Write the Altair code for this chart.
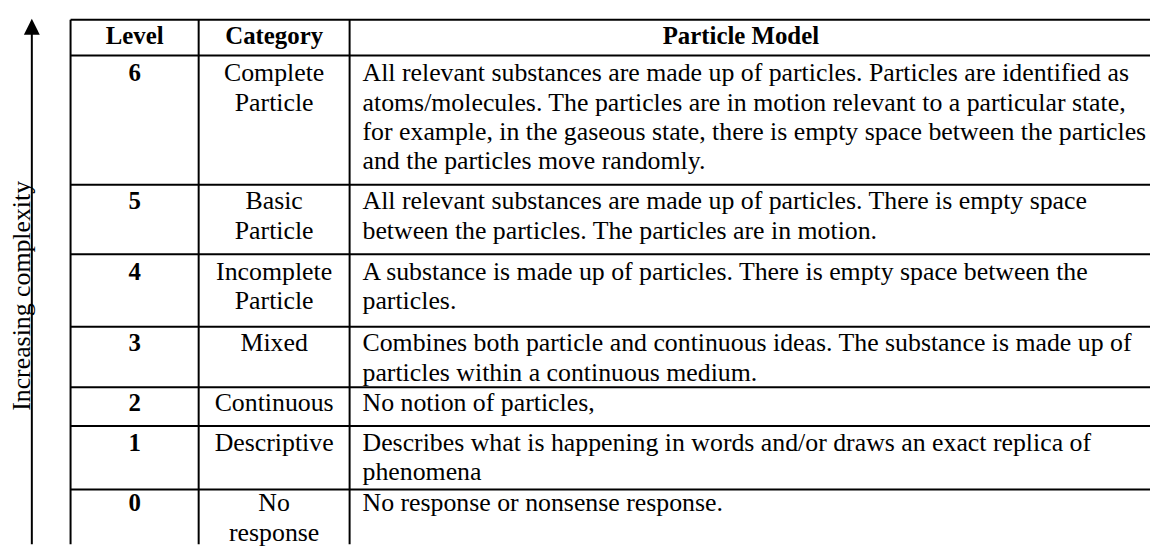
import altair as alt
import pandas as pd

# ---- table content ----
HEADERS = ["Level", "Category", "Particle Model"]
LEVELS = ["6", "5", "4", "3", "2", "1", "0"]
CATEGORIES = [
    "Complete\nParticle",
    "Basic\nParticle",
    "Incomplete\nParticle",
    "Mixed",
    "Continuous",
    "Descriptive",
    "No\nresponse",
]
DESCRIPTIONS = [
    "All relevant substances are made up of particles. Particles are identified as\n"
    "atoms/molecules. The particles are in motion relevant to a particular state,\n"
    "for example, in the gaseous state, there is empty space between the particles\n"
    "and the particles move randomly.",
    "All relevant substances are made up of particles. There is empty space\n"
    "between the particles. The particles are in motion.",
    "A substance is made up of particles. There is empty space between the\n"
    "particles.",
    "Combines both particle and continuous ideas. The substance is made up of\n"
    "particles within a continuous medium.",
    "No notion of particles,",
    "Describes what is happening in words and/or draws an exact replica of\n"
    "phenomena",
    "No response or nonsense response.",
]
SIDE_LABEL = "Increasing complexity"

# ---- table geometry (page pixel units) ----
COL_EDGES = [71, 200, 352]
TABLE_RIGHT = 1158
ROW_EDGES = [18, 54, 184, 254, 327, 388, 427, 491]
TABLE_BOTTOM = 546
HEADER_BASELINE = 42
ROW_BASELINES = [80, 209, 280, 352, 412, 452, 513]
HEADER_CENTERS = [135.5, 276, 746]
LEVEL_CENTER = 135.5
CATEGORY_CENTER = 276
DESC_LEFT = 365
ARROW_X = 32
ARROW_HEAD_Y = 25
ARROW_SHAFT_TOP = 30
SIDE_LABEL_X = 30
SIDE_LABEL_Y = 296

FONT = "Liberation Serif"
FS = 26
LH = 29.5

xs = alt.Scale(domain=[8, 1158], nice=False, zero=False)
ys = alt.Scale(domain=[8, 546], nice=False, zero=False, reverse=True)
X = lambda f: alt.X(f, type="quantitative", scale=xs, axis=None)
Y = lambda f: alt.Y(f, type="quantitative", scale=ys, axis=None)

hlines = pd.DataFrame({"y": ROW_EDGES, "x": COL_EDGES[0], "x2": TABLE_RIGHT})
vlines = pd.DataFrame({"x": COL_EDGES, "y": ROW_EDGES[0], "y2": TABLE_BOTTOM})
arrow = pd.DataFrame({"x": [ARROW_X], "y": [ARROW_SHAFT_TOP], "y2": [TABLE_BOTTOM], "yh": [ARROW_HEAD_Y]})
head = pd.DataFrame({"text": HEADERS, "x": HEADER_CENTERS, "y": HEADER_BASELINE})
body = pd.DataFrame({
    "level": LEVELS,
    "category": CATEGORIES,
    "description": DESCRIPTIONS,
    "y": ROW_BASELINES,
    "xl": LEVEL_CENTER,
    "xc": CATEGORY_CENTER,
    "xd": DESC_LEFT,
})
side = pd.DataFrame({"text": [SIDE_LABEL], "x": [SIDE_LABEL_X], "y": [SIDE_LABEL_Y]})

h_rules = alt.Chart(hlines).mark_rule(color="black", strokeWidth=2).encode(
    x=X("x"), x2="x2", y=Y("y"))
v_rules = alt.Chart(vlines).mark_rule(color="black", strokeWidth=2).encode(
    x=X("x"), y=Y("y"), y2="y2")
shaft = alt.Chart(arrow).mark_rule(color="black", strokeWidth=2).encode(
    x=X("x"), y=Y("y"), y2="y2")
tip = alt.Chart(arrow).mark_point(
    shape="M-1,1L1,1L0,-1Z", filled=True, color="black", opacity=1, size=256, strokeWidth=0
).encode(x=X("x"), y=Y("yh"))

header_text = alt.Chart(head).mark_text(
    font=FONT, fontSize=25, fontWeight="bold", align="center", baseline="alphabetic", color="black"
).encode(x=X("x"), y=Y("y"), text="text:N")

level_text = alt.Chart(body).mark_text(
    font=FONT, fontSize=25, fontWeight="bold", align="center", baseline="alphabetic", color="black"
).encode(x=X("xl"), y=Y("y"), text="level:N")

cat_text = alt.Chart(body).mark_text(
    font=FONT, fontSize=FS, align="center", baseline="alphabetic", color="black",
    lineBreak="\n", lineHeight=LH
).encode(x=X("xc"), y=Y("y"), text="category:N")

desc_text = alt.Chart(body).mark_text(
    font=FONT, fontSize=FS, align="left", baseline="alphabetic", color="black",
    lineBreak="\n", lineHeight=LH
).encode(x=X("xd"), y=Y("y"), text="description:N")

side_text = alt.Chart(side).mark_text(
    font=FONT, fontSize=26, align="center", baseline="alphabetic", angle=270, color="black"
).encode(x=X("x"), y=Y("y"), text="text:N")

chart = alt.layer(
    h_rules, v_rules, shaft, tip, header_text, level_text, cat_text, desc_text, side_text
).properties(
    width=1150, height=538, padding=0, autosize="none", background="white"
).configure_view(stroke=None)

chart.save("out.html", embed_options={"renderer": "svg", "actions": False})
